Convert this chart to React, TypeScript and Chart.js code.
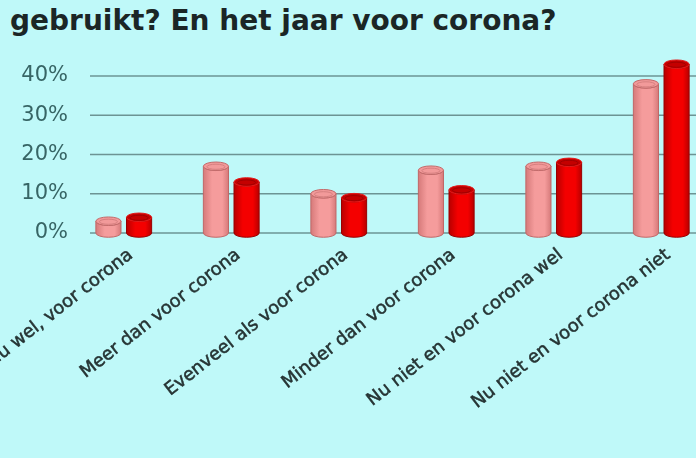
import React, { useEffect, useRef } from 'react';
import { Chart, registerables } from 'chart.js';

Chart.register(...registerables);

// ---- data ----
const titleText = 'gebruikt? En het jaar voor corona?';
const categories = [
  'Nu wel, voor corona',
  'Meer dan voor corona',
  'Evenveel als voor corona',
  'Minder dan voor corona',
  'Nu niet en voor corona wel',
  'Nu niet en voor corona niet',
];
const yearBeforeCorona = [3, 17, 10, 16, 17, 38];
const now = [4, 13, 9, 11, 18, 43];
const yTicks = [0, 10, 20, 30, 40];

// ---- styles ----
const BG = '#bff9f9';
const PALETTES = [
  { edge: '#d67a7a', light: '#f59c9c', outline: '#c06868', top: '#f29a9a', rim: '#c26a6a', inner: '#d68080' },
  { edge: '#b80000', light: '#f40000', outline: '#980000', top: '#c40000', rim: '#e31a1a', inner: '#a00000' },
];

const gridPlugin = {
  id: 'customGrid',
  beforeDatasetsDraw(chart: any) {
    const { ctx, chartArea } = chart;
    const ys = chart.scales.y;
    ctx.save();
    ctx.strokeStyle = '#6c9494';
    ctx.lineWidth = 1.6;
    ys.ticks.forEach((t: any) => {
      const py = ys.getPixelForValue(t.value);
      ctx.beginPath();
      ctx.moveTo(chartArea.left + 20, py);
      ctx.lineTo(chart.width, py);
      ctx.stroke();
    });
    ctx.restore();
  },
};

const cylinderPlugin = {
  id: 'cylinders',
  afterDatasetsDraw(chart: any) {
    const ctx = chart.ctx;
    chart.data.datasets.forEach((_ds: any, di: number) => {
      const meta = chart.getDatasetMeta(di);
      const pal = PALETTES[di];
      meta.data.forEach((bar: any) => {
        const { x, y, base, width } = bar.getProps(['x', 'y', 'base', 'width'], true);
        const l = x - width / 2;
        const r = x + width / 2;
        const rx = width / 2;
        const ry = width * 0.17;
        ctx.save();
        const g = ctx.createLinearGradient(l, 0, r, 0);
        g.addColorStop(0, pal.edge);
        g.addColorStop(0.35, pal.light);
        g.addColorStop(0.75, pal.light);
        g.addColorStop(1, pal.edge);
        ctx.beginPath();
        ctx.moveTo(l, y);
        ctx.lineTo(l, base);
        ctx.ellipse(x, base, rx, ry, 0, Math.PI, 0, true);
        ctx.lineTo(r, y);
        ctx.ellipse(x, y, rx, ry, 0, 0, Math.PI, false);
        ctx.closePath();
        ctx.fillStyle = g;
        ctx.fill();
        ctx.strokeStyle = pal.outline;
        ctx.lineWidth = 1;
        ctx.stroke();
        // top face
        ctx.beginPath();
        ctx.ellipse(x, y, rx, ry, 0, 0, Math.PI * 2);
        ctx.fillStyle = pal.top;
        ctx.fill();
        ctx.strokeStyle = pal.rim;
        ctx.stroke();
        ctx.beginPath();
        ctx.ellipse(x, y + 0.5, rx * 0.72, ry * 0.6, 0, 0, Math.PI * 2);
        ctx.strokeStyle = pal.inner;
        ctx.stroke();
        ctx.restore();
      });
    });
  },
};

const xLabelPlugin = {
  id: 'xLabels',
  afterDraw(chart: any) {
    const { ctx, chartArea } = chart;
    const xs = chart.scales.x;
    ctx.save();
    ctx.fillStyle = '#263434';
    ctx.strokeStyle = '#263434';
    ctx.lineWidth = 0.5;
    ctx.font = '18px "DejaVu Sans"';
    ctx.textAlign = 'right';
    ctx.textBaseline = 'middle';
    categories.forEach((label, i) => {
      const px = xs.getPixelForValue(i);
      ctx.save();
      ctx.translate(px + 7, chartArea.bottom + 20);
      ctx.rotate(-(38 * Math.PI) / 180);
      ctx.fillText(label, 0, 0);
      ctx.strokeText(label, 0, 0);
      ctx.restore();
    });
    ctx.restore();
  },
};

export default function App() {
  const ref = useRef<HTMLCanvasElement | null>(null);

  useEffect(() => {
    if (!ref.current) return;
    const chart = new Chart(ref.current, {
      type: 'bar',
      data: {
        labels: categories,
        datasets: [
          {
            label: 'Het jaar voor corona',
            data: yearBeforeCorona,
            backgroundColor: 'rgba(0,0,0,0)',
            borderWidth: 0,
            barPercentage: 0.82,
            categoryPercentage: 0.57,
            clip: false as any,
          },
          {
            label: 'Nu',
            data: now,
            backgroundColor: 'rgba(0,0,0,0)',
            borderWidth: 0,
            barPercentage: 0.82,
            categoryPercentage: 0.57,
            clip: false as any,
          },
        ],
      },
      options: {
        animation: false,
        responsive: false,
        layout: { padding: { top: 76, bottom: 225, left: 0, right: 15 } },
        plugins: {
          legend: { display: false },
          tooltip: { enabled: false },
          title: { display: false },
        },
        scales: {
          x: { display: false, offset: true, ticks: { autoSkip: false } },
          y: {
            min: 0,
            max: 40,
            afterFit: (s: any) => {
              s.width = 70;
            },
            afterBuildTicks: (s: any) => {
              s.ticks = yTicks.map((v) => ({ value: v }));
            },
            grid: { display: false, drawTicks: false },
            border: { display: false },
            ticks: {
              padding: 2,
              color: '#376565',
              font: { family: 'DejaVu Sans', size: 21 },
              callback: (v: any) => v + '%',
            },
          },
        },
      },
      plugins: [gridPlugin, cylinderPlugin, xLabelPlugin],
    });
    return () => chart.destroy();
  }, []);

  return (
    <div
      style={{
        position: 'fixed',
        left: 0,
        top: 0,
        width: 696,
        height: 458,
        overflow: 'hidden',
        background: BG,
      }}
    >
      <div
        style={{
          position: 'absolute',
          left: 10,
          top: 7,
          font: 'bold 28px "DejaVu Sans"',
          lineHeight: '28px',
          color: '#1b2626',
          whiteSpace: 'nowrap',
        }}
      >
        {titleText}
      </div>
      <canvas
        ref={ref}
        width={730}
        height={458}
        style={{ position: 'absolute', left: 0, top: 0, display: 'block' }}
      />
    </div>
  );
}
